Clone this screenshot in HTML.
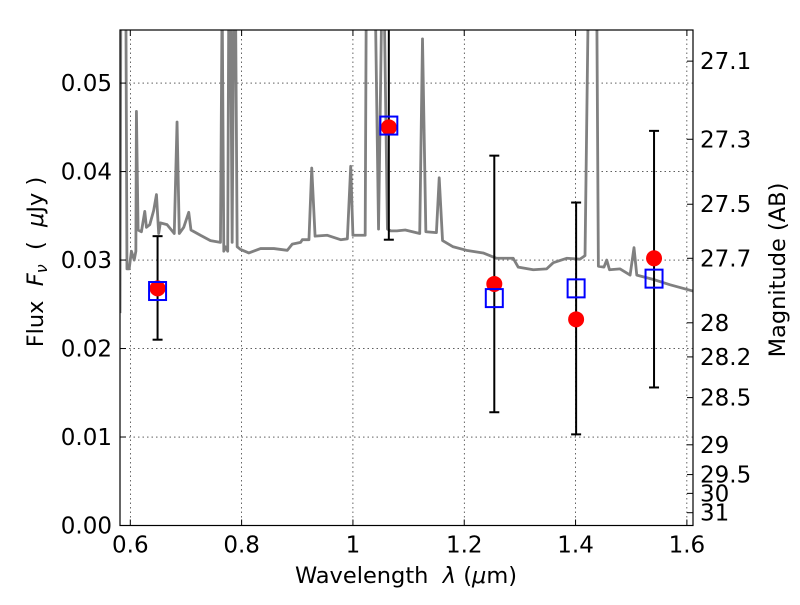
<!DOCTYPE html>
<html><head><meta charset="utf-8"><style>
body{margin:0;background:#fff;}
svg text{font-family:"DejaVu Sans","Liberation Sans",sans-serif;}
</style></head><body>
<svg id="chart" width="800" height="600" xmlns="http://www.w3.org/2000/svg">
<rect width="800" height="600" fill="#fff"/>
<defs><clipPath id="clip"><rect x="120" y="30" width="573" height="495.5"/></clipPath></defs>
<g id="grid"></g>
<g id="spec" clip-path="url(#clip)"></g>
<g id="errs" clip-path="url(#clip)"></g>
<g id="marks"></g>
<rect x="120" y="30" width="573" height="495.5" fill="none" stroke="#000" stroke-width="1.2"/>
<g id="axes"></g>
<text x="406" y="583" font-size="22.5" text-anchor="middle" xml:space="preserve">Wavelength  <tspan font-style="italic">λ</tspan> (<tspan font-style="italic">μ</tspan>m)</text>
<text transform="translate(43,262) rotate(-90)" font-size="22.5" text-anchor="middle" xml:space="preserve">Flux  <tspan font-style="italic">F<tspan font-size="16" dy="4">ν</tspan></tspan><tspan dy="-4">  (  </tspan><tspan font-style="italic">μ</tspan>Jy )</text>
<text transform="translate(785,270) rotate(-90)" font-size="22.5" text-anchor="middle">Magnitude (AB)</text>
</svg>
<script>
const specWave=[0.5815,0.583,0.592,0.594,0.598,0.602,0.607,0.610,0.611,0.614,0.620,0.626,0.629,0.635,0.642,0.647,0.651,0.654,0.666,0.679,0.684,0.688,0.696,0.705,0.709,0.726,0.744,0.762,0.765,0.768,0.771,0.775,0.777,0.780,0.783,0.786,0.789,0.792,0.798,0.813,0.834,0.858,0.882,0.891,0.906,0.909,0.921,0.926,0.932,0.954,0.978,0.990,0.996,1.000,1.022,1.024,1.040,1.046,1.052,1.056,1.062,1.068,1.079,1.094,1.120,1.125,1.131,1.150,1.155,1.161,1.180,1.204,1.234,1.258,1.288,1.297,1.324,1.348,1.360,1.384,1.408,1.417,1.423,1.438,1.441,1.451,1.456,1.461,1.480,1.498,1.505,1.510,1.540,1.570,1.611];
const specFlux=[0.024,0.060,0.060,0.029,0.029,0.031,0.030,0.031,0.0468,0.0334,0.0332,0.0355,0.0337,0.0340,0.0356,0.0374,0.0330,0.0342,0.0340,0.0330,0.0456,0.0330,0.0337,0.0354,0.0334,0.0328,0.0322,0.0320,0.060,0.031,0.0315,0.031,0.060,0.060,0.032,0.060,0.060,0.0315,0.0312,0.0308,0.0313,0.0313,0.0311,0.0318,0.0320,0.0323,0.0323,0.0404,0.0327,0.0328,0.0323,0.0324,0.0406,0.0328,0.0328,0.060,0.060,0.0335,0.060,0.060,0.0335,0.0333,0.0333,0.0334,0.0330,0.0550,0.0332,0.0331,0.0393,0.0322,0.0315,0.0311,0.0308,0.0302,0.0302,0.0292,0.0289,0.0290,0.0297,0.0302,0.0301,0.0305,0.060,0.060,0.0293,0.0292,0.0300,0.0289,0.0290,0.0283,0.0314,0.0283,0.0278,0.0272,0.0265];
const bandWave=[0.649,1.0645,1.254,1.401,1.541];
const obsFlux=[0.0268,0.0450,0.0273,0.0233,0.0302];
const modelFlux=[0.0265,0.0452,0.0257,0.0268,0.0279];
const errLow=[0.0210,0.0323,0.0128,0.0103,0.0156];
const errHigh=[0.0327,0.0600,0.0418,0.0365,0.0446];
const xTicks=[0.6,0.8,1.0,1.2,1.4,1.6];
const xTickLabels=["0.6","0.8","1","1.2","1.4","1.6"];
const yTicks=[0,0.01,0.02,0.03,0.04,0.05];
const yTickLabels=["0.00","0.01","0.02","0.03","0.04","0.05"];
const magTicks=[27.1,27.3,27.5,27.7,28,28.2,28.5,29,29.5,30,31];

const NS="http://www.w3.org/2000/svg";
const L=120,R=693,T=30,B=525.5,xmin=0.5815,xmax=1.611,ymin=0,ymax=0.056;
const X=v=>L+(v-xmin)/(xmax-xmin)*(R-L);
const Y=v=>B-(v-ymin)/(ymax-ymin)*(B-T);
function el(tag,attrs,parent){const e=document.createElementNS(NS,tag);for(const k in attrs)e.setAttribute(k,attrs[k]);parent.appendChild(e);return e;}
const grid=document.getElementById('grid'),axes=document.getElementById('axes');
xTicks.forEach((t,i)=>{
  const g=el('line',{x1:X(t),x2:X(t),y1:T,y2:B,stroke:'#000','stroke-width':0.6,'stroke-dasharray':'1.5,3'},grid);
  
  el('line',{x1:X(t),x2:X(t),y1:B,y2:B-6,stroke:'#000'},axes);
  el('line',{x1:X(t),x2:X(t),y1:T,y2:T+6,stroke:'#000'},axes);
  const tx=el('text',{x:X(t),y:B+27,'font-size':23,'text-anchor':'middle'},axes);tx.textContent=xTickLabels[i];
  
});
yTicks.forEach((t,i)=>{
  const g=el('line',{x1:L,x2:R,y1:Y(t),y2:Y(t),stroke:'#000','stroke-width':0.6,'stroke-dasharray':'1.5,3'},grid);
  
  el('line',{x1:L,x2:L+6,y1:Y(t),y2:Y(t),stroke:'#000'},axes);
  const tx=el('text',{x:L-8,y:Y(t)+8,'font-size':23,'text-anchor':'end'},axes);tx.textContent=yTickLabels[i];
  
});
magTicks.forEach(m=>{
  const f=Math.pow(10,(23.9-m)/2.5),y=Y(f);
  el('line',{x1:R,x2:R-6,y1:y,y2:y,stroke:'#000'},axes);
  const tx=el('text',{x:R+7,y:y+8,'font-size':23},axes);tx.textContent=String(m);
  
});
const sp=el('polyline',{points:specWave.map((w,i)=>X(w)+','+Y(specFlux[i])).join(' '),fill:'none',stroke:'#808080','stroke-width':2.8,'stroke-linejoin':'round'},document.getElementById('spec'));

const errs=document.getElementById('errs'),marks=document.getElementById('marks');
bandWave.forEach((w,i)=>{
  const x=X(w);
  const e=el('g',{},errs);
  
  el('line',{x1:x,x2:x,y1:Y(errLow[i]),y2:Y(errHigh[i]),stroke:'#000','stroke-width':2},e);
  el('line',{x1:x-5,x2:x+5,y1:Y(errLow[i]),y2:Y(errLow[i]),stroke:'#000','stroke-width':2},e);
  el('line',{x1:x-5,x2:x+5,y1:Y(errHigh[i]),y2:Y(errHigh[i]),stroke:'#000','stroke-width':2},e);
  const c=el('circle',{cx:x,cy:Y(obsFlux[i]),r:8,fill:'#ff0000'},marks);
  
  const s=el('rect',{x:x-8.5,y:Y(modelFlux[i])-9,width:17,height:18,fill:'none',stroke:'#0000ff','stroke-width':2},marks);
  
});
</script>
</body></html>
